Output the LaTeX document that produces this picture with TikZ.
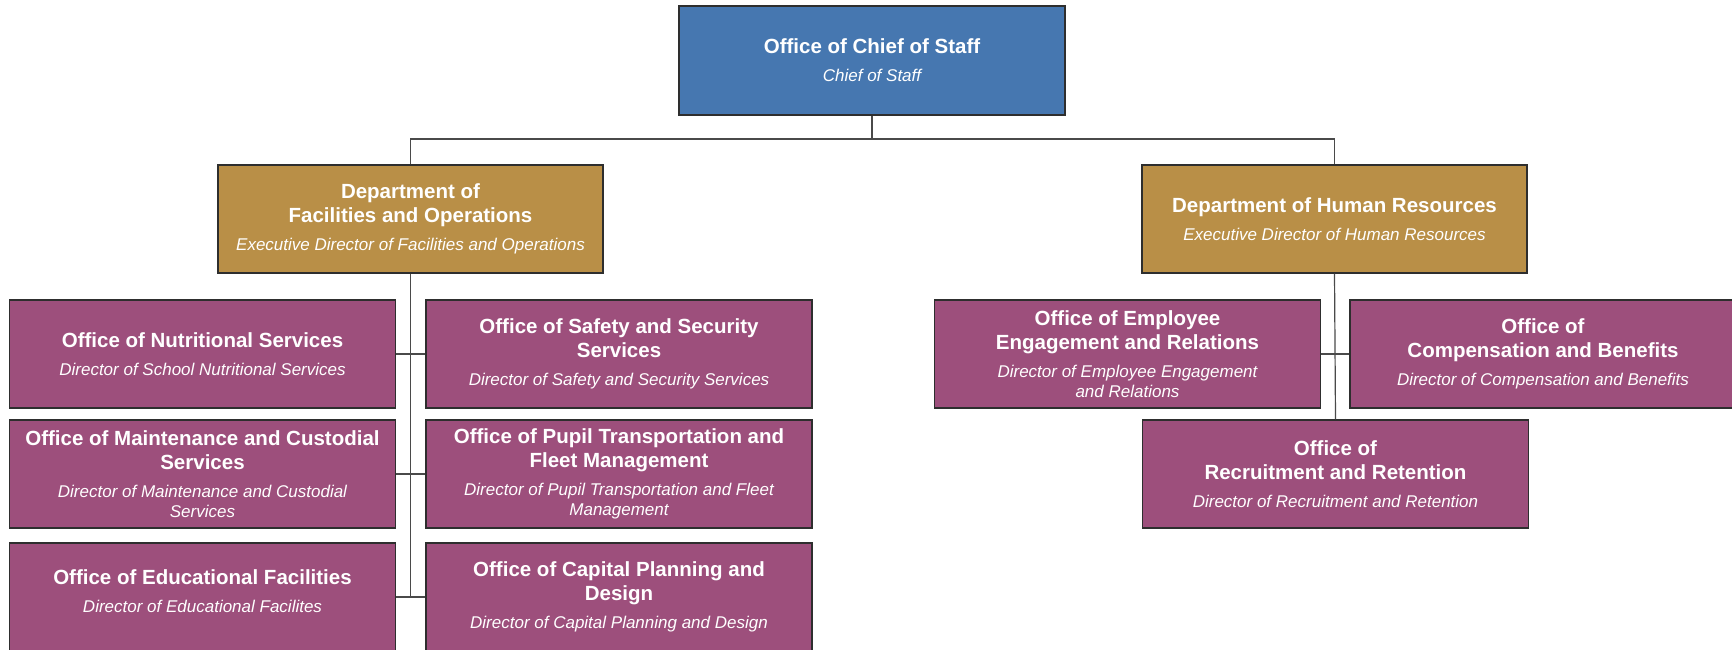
\documentclass[tikz,border=0pt]{standalone}
\usepackage{fontspec}
\setmainfont{Liberation Sans}
\definecolor{cblue}{HTML}{4677B0}
\definecolor{cgold}{HTML}{B98F47}
\definecolor{cpurple}{HTML}{9D4F7C}
\definecolor{cedge}{HTML}{2E2E2E}
\definecolor{cline}{HTML}{4A4A4A}
\newcommand\ttl[1]{{\fontsize{20.5}{24}\selectfont\bfseries #1}}
\newcommand\sbt[1]{{\itshape #1}}
\tikzset{
  org/.style={draw=cedge, line width=1.2pt, minimum width=386pt, minimum height=108pt,
    inner sep=0pt, align=center, text=white, font=\fontsize{17}{20}\selectfont},
  topbox/.style={org, fill=cblue, minimum height=109pt},
  deptbox/.style={org, fill=cgold, minimum width=385pt},
  offbox/.style={org, fill=cpurple},
  conn/.style={draw=cline, line width=1.2pt},
}
\begin{document}
\begin{tikzpicture}[x=1pt,y=-1pt]
\useasboundingbox (0,0) rectangle (1732,649);
\node[topbox] (chief) at (872,60.5) {\ttl{Office of Chief of Staff}\\[8pt]\sbt{Chief of Staff}};
\node[deptbox] (dfo) at (410.5,219) {\ttl{Department of}\\[4pt]\ttl{Facilities and Operations}\\[8pt]\sbt{Executive Director of Facilities and Operations}};
\node[deptbox] (dhr) at (1334.5,219) {\ttl{Department of Human Resources}\\[8pt]\sbt{Executive Director of Human Resources}};
\node[offbox] (nut) at (202.5,354) {\ttl{Office of Nutritional Services}\\[8pt]\sbt{Director of School Nutritional Services}};
\node[offbox] (saf) at (619,354) {\ttl{Office of Safety and Security}\\[4pt]\ttl{Services}\\[8pt]\sbt{Director of Safety and Security Services}};
\node[offbox] (mai) at (202.5,474) {\ttl{Office of Maintenance and Custodial}\\[4pt]\ttl{Services}\\[8pt]\sbt{Director of Maintenance and Custodial}\\\sbt{Services}};
\node[offbox] (pup) at (619,474) {\ttl{Office of Pupil Transportation and}\\[4pt]\ttl{Fleet Management}\\[8pt]\sbt{Director of Pupil Transportation and Fleet}\\\sbt{Management}};
\node[offbox, text depth=12pt] (edu) at (202.5,597) {\ttl{Office of Educational Facilities}\\[8pt]\sbt{Director of Educational Facilites}};
\node[offbox] (cap) at (619,597) {\ttl{Office of Capital Planning and}\\[4pt]\ttl{Design}\\[8pt]\sbt{Director of Capital Planning and Design}};
\node[offbox] (emp) at (1127.5,354) {\ttl{Office of Employee}\\[4pt]\ttl{Engagement and Relations}\\[8pt]\sbt{Director of Employee Engagement}\\\sbt{and Relations}};
\node[offbox] (com) at (1543,354) {\ttl{Office of}\\[4pt]\ttl{Compensation and Benefits}\\[8pt]\sbt{Director of Compensation and Benefits}};
\node[offbox] (rec) at (1335.5,474) {\ttl{Office of}\\[4pt]\ttl{Recruitment and Retention}\\[8pt]\sbt{Director of Recruitment and Retention}};
\coordinate (bus) at (872,139);
\draw[conn] (chief.south) -- (bus);
\draw[conn] (dfo.north) -- (dfo.north |- bus) -- (dhr.north |- bus) -- (dhr.north);
\draw[conn] (dfo.south) -- (dfo.south |- edu.east);
\draw[conn] (nut.east) -- (saf.west);
\draw[conn] (mai.east) -- (pup.west);
\draw[conn] (edu.east) -- (cap.west);
\draw[conn] (dhr.south) -- (rec.north);
\draw[conn] (emp.east) -- (com.west);
\end{tikzpicture}
\end{document}
